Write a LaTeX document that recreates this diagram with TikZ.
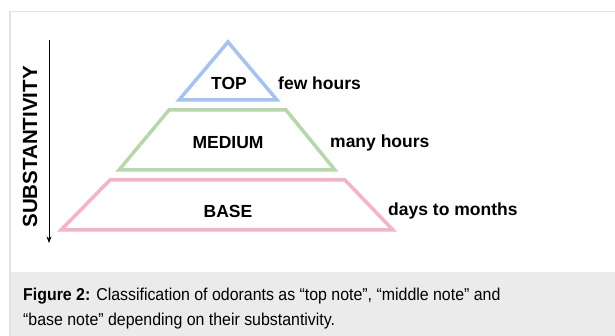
\documentclass[tikz,border=0pt]{standalone}
\usepackage{fontspec}
\setmainfont{Liberation Sans}
\usetikzlibrary{arrows.meta}
\definecolor{topblue}{RGB}{164,194,244}
\definecolor{midgreen}{RGB}{182,215,168}
\definecolor{basepink}{RGB}{245,178,200}
\definecolor{framegray}{RGB}{226,226,226}
\definecolor{bandgray}{RGB}{235,235,235}
\newcommand{\capline}[1]{\scalebox{0.925}[1]{#1}}
\tikzset{
    layer/.style={line width=3.5pt, line join=miter},
    level/.style={font=\fontsize{17.5}{20}\selectfont\bfseries, inner sep=0pt},
    time/.style={font=\fontsize{17.5}{20}\selectfont\bfseries, inner sep=0pt, anchor=west}
}
\begin{document}
\begin{tikzpicture}[>=Stealth, x=1pt, y=-1pt]
                \useasboundingbox (0,0) rectangle (615,336);
                \fill[bandgray] (9,272) rectangle (615,336);
                \draw[framegray, line width=1.5pt] (9.75,336) -- (9.75,11.75) -- (615,11.75);
                
                \coordinate (A) at (228,42);
                \coordinate (B) at (179,100);
                \coordinate (C) at (277,100);
                \draw[layer, topblue] (A) -- (B) -- (C) -- cycle;
                
                \coordinate (M1) at (169,110);
                \coordinate (M2) at (286,110);
                \coordinate (M3) at (335,170);
                \coordinate (M4) at (119,170);
                \draw[layer, midgreen] (M1) -- (M2) -- (M3) -- (M4) -- cycle;
                
                \coordinate (B1) at (110,180);
                \coordinate (B2) at (345,180);
                \coordinate (B3) at (393,230);
                \coordinate (B4) at (61,230);
                \draw[layer, basepink] (B1) -- (B2) -- (B3) -- (B4) -- cycle;
                
                \node[level] (top) at (229,83) {TOP};
                \node[level] (medium) at (228,143) {MEDIUM};
                \node[level] (base) at (228,211) {BASE};
                
                \node[time] (few) at (278,83) {few hours};
                \node[time] (many) at (330,143) {many hours};
                \node[time] (days) at (388,211) {days to months};
                
                \coordinate (S1) at (49,40);
                \coordinate (S2) at (49,243);
                \draw[->, line width=0.8pt] (S1) -- (S2);
                \node[rotate=90, inner sep=0pt, font=\fontsize{20.5}{22}\selectfont\bfseries] (subst) at (30,147) {SUBSTANTIVITY};
                
                \node[anchor=north west, inner sep=0pt, align=left,
                      font=\fontsize{17.2}{25}\selectfont] (caption) at (23,288)
                      {\capline{\textbf{Figure 2:} Classification of odorants as “top note”, “middle note” and}\\
                       \capline{“base note” depending on their substantivity.}};
            \end{tikzpicture}
\end{document}
